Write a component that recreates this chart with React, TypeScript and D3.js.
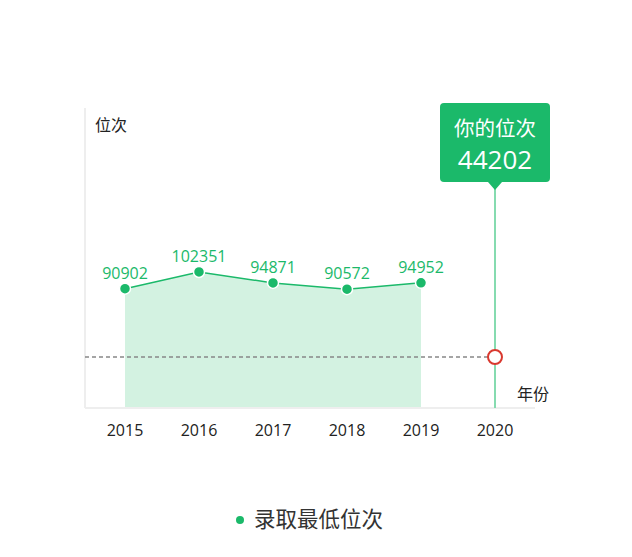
import * as d3 from 'd3'

const years = ['2015', '2016', '2017', '2018', '2019', '2020']
const historyYears = ['2015', '2016', '2017', '2018', '2019']
const minRanks = [90902, 102351, 94871, 90572, 94952]
const myYear = '2020'
const myRank = 44202
const seriesName = '录取最低位次'
const tipTitle = '你的位次'
const yAxisName = '位次'
const xAxisName = '年份'

const W = 632
const H = 557
const LEFT = 85
const RIGHT = 535
const TOP = 108
const BOTTOM = 408

const GREEN = '#1bb96a'
const FONT = '"Open Sans", "Noto Sans CJK SC", sans-serif'

export default function App() {
  const x = d3.scaleBand<string>().domain(years).range([88, 532])
  const cx = (yr: string) => (x(yr) ?? 0) + x.bandwidth() / 2
  const y = d3.scaleLinear().domain([9300, 214500]).range([BOTTOM, TOP])

  const pts = historyYears.map((yr, i) => ({ yr, v: minRanks[i] }))

  const line = d3
    .line<{ yr: string; v: number }>()
    .x((d) => cx(d.yr))
    .y((d) => y(d.v))
  const area = d3
    .area<{ yr: string; v: number }>()
    .x((d) => cx(d.yr))
    .y0(BOTTOM)
    .y1((d) => y(d.v))

  const mx = cx(myYear)
  const my = y(myRank)

  // tooltip box
  const tipW = 110
  const tipTop = 103
  const tipBottom = 182

  return (
    <svg width={W} height={H} style={{ position: 'absolute', left: 0, top: 0 }} fontFamily={FONT}>
      {/* axes */}
      <line x1={LEFT} y1={TOP} x2={LEFT} y2={BOTTOM} stroke="#eeeeee" strokeWidth={2} />

      {/* area + line */}
      <path d={area(pts) ?? ''} fill="#d3f2e1" />
      <line x1={LEFT} y1={BOTTOM} x2={RIGHT} y2={BOTTOM} stroke="#eeeeee" strokeWidth={2} />
      <path d={line(pts) ?? ''} fill="none" stroke={GREEN} strokeWidth={1.5} />

      {/* my rank guide */}
      <line x1={LEFT} y1={my} x2={mx - 7} y2={my} stroke="#888" strokeWidth={1.5} strokeDasharray="4 3" />
      <line x1={mx} y1={tipBottom + 6} x2={mx} y2={BOTTOM} stroke="#86dbb0" strokeWidth={2} />
      <circle cx={mx} cy={my} r={7} fill="#fff" stroke="#d9392f" strokeWidth={2} />

      {/* points */}
      {pts.map((d) => (
        <g key={d.yr}>
          <circle cx={cx(d.yr)} cy={y(d.v)} r={5.5} fill={GREEN} stroke="#fff" strokeWidth={1.5} />
          <text x={cx(d.yr)} y={y(d.v) - 10} textAnchor="middle" fontSize={16} fill={GREEN}>
            {d.v}
          </text>
        </g>
      ))}

      {/* x ticks */}
      {years.map((yr) => (
        <text key={yr} x={cx(yr)} y={436} textAnchor="middle" fontSize={16} fill="#222">
          {yr}
        </text>
      ))}

      <text x={95} y={131} fontSize={16} fill="#222">
        {yAxisName}
      </text>
      <text x={517} y={400} fontSize={16} fill="#222">
        {xAxisName}
      </text>

      {/* tooltip */}
      <rect x={mx - tipW / 2} y={tipTop} width={tipW} height={tipBottom - tipTop} rx={4} fill={GREEN} />
      <path d={`M${mx - 7},${tipBottom}L${mx},${tipBottom + 8}L${mx + 7},${tipBottom}Z`} fill={GREEN} />
      <text x={mx} y={136} textAnchor="middle" fontSize={20.5} fill="#fff">
        {tipTitle}
      </text>
      <text x={mx} y={169} textAnchor="middle" fontSize={26} fontWeight={500} fill="#fff">
        {myRank}
      </text>

      {/* legend */}
      <circle cx={240} cy={520} r={4} fill={GREEN} />
      <text x={254} y={527} fontSize={21.5} fill="#333">
        {seriesName}
      </text>
    </svg>
  )
}
